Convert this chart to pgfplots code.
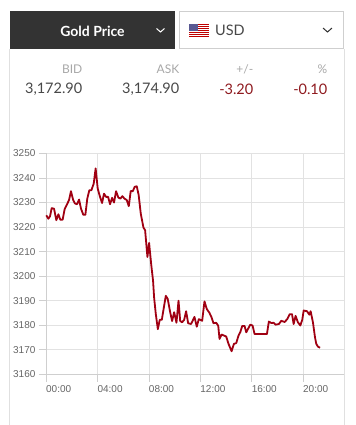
\documentclass[border=0pt]{standalone}
\usepackage{pgfplots}
\pgfplotsset{compat=1.18}
\usepackage{fontspec}
\setmainfont{Lato}[]
\newfontfamily\arialf{Liberation Sans}
\definecolor{gridc}{HTML}{E2E2E2}
\definecolor{axisc}{HTML}{CFCFCF}
\definecolor{panelc}{HTML}{E0E0E0}
\definecolor{darkh}{HTML}{333333}
\definecolor{redv}{HTML}{8F1A1F}
\definecolor{lineR}{HTML}{A00012}
\definecolor{labg}{HTML}{666666}
\definecolor{headg}{HTML}{A8A8A8}
\definecolor{valg}{HTML}{484848}
\begin{document}
\begin{tikzpicture}[x=1bp,y=-1bp]
\path[use as bounding box] (0,0) rectangle (356,425);
\fill[white] (0,0) rectangle (356,425);
\coordinate (A) at (46.3,374.3);
% panel
\draw[panelc,line width=0.8bp] (9.8,49) -- (9.8,425);
\draw[panelc,line width=0.8bp] (344.2,49) -- (344.2,425);
% header
\fill[darkh] (10,11) rectangle (175,49);
\draw[axisc,line width=0.8bp,fill=white] (179.5,11.5) rectangle (343.7,48.5);
\node[anchor=center,text=white,font=\fontsize{14bp}{16bp}\selectfont\bfseries] at (92.5,31) {Gold Price};
\draw[white,line width=1bp] (156.5,28.5) -- (160.5,32) -- (164.5,28.5);
\draw[darkh,line width=1bp] (323,28) -- (327.5,32) -- (332,28);
% flag
\fill[white] (189,23.5) rectangle (209,36.5);
\foreach \i in {0,2,4,6,8,10,12}{\fill[red!75!black] (189,23.5+\i) rectangle (209,24.6+\i);}
\fill[blue!35!black!65] (189,23.5) rectangle (198,30.5);
\node[anchor=west,inner sep=0pt,text=valg,font=\fontsize{14.5bp}{16bp}\selectfont] at (215,30.5) {USD};
% quote table
\foreach \x/\t in {82.5/BID,179.5/ASK,253.5/{+/-},327.5/\%}{
  \node[anchor=east,inner sep=0pt,text=headg,font=\fontsize{12bp}{14bp}\selectfont] at (\x,69) {\t};}
\node[anchor=east,inner sep=0pt,text=valg,font=\fontsize{14.5bp}{16bp}\selectfont] at (82.5,89) {3,172.90};
\node[anchor=east,inner sep=0pt,text=valg,font=\fontsize{14.5bp}{16bp}\selectfont] at (179.5,89) {3,174.90};
\node[anchor=east,inner sep=0pt,text=redv,font=\fontsize{14.5bp}{16bp}\selectfont] at (253.5,89) {-3.20};
\node[anchor=east,inner sep=0pt,text=redv,font=\fontsize{14.5bp}{16bp}\selectfont] at (327.5,89) {-0.10};
\begin{axis}[
  at={(A)},anchor=south west,
  scale only axis,width=297.6bp,height=220.9bp,
  xmin=0,xmax=23.16,ymin=3160,ymax=3250,
  axis x line*=bottom,axis y line*=left,
  axis line style={axisc,line width=0.8bp,-},
  clip=false,
  xtick={0,4,8,12,16,20},
  xticklabels={00:00,04:00,08:00,12:00,16:00,20:00},
  ytick={3160,3170,3180,3190,3200,3210,3220,3230,3240,3250},
  major tick length=7.4bp,
  tick style={axisc,line width=0.8bp},
  tick align=outside,
  grid=major,
  grid style={gridc,line width=0.8bp},
  /pgf/number format/assume math mode=true,
  /pgf/number format/set thousands separator={},
  tick label style={text=labg,font=\arialf\fontsize{10bp}{12bp}\selectfont},
  xticklabel style={xshift=12.4bp,yshift=-0.5bp},
]
\addplot[lineR,line width=1.8bp,line join=round,no markers] coordinates {
(0,3224.8)(.16,3223.4)(.29,3224.4)(.42,3227.7)(.60,3227.5)(.78,3222.8)(.94,3225.2)(1.09,3223)(1.27,3223)
(1.43,3227.3)(1.58,3228.9)(1.77,3231)(1.92,3234.6)(2.08,3231.2)(2.23,3229.6)(2.39,3229.3)(2.55,3231.2)
(2.70,3227.5)(2.88,3225)(3.04,3225)(3.19,3231.6)(3.35,3235)(3.51,3235)(3.69,3237.7)(3.84,3243.9)(4.0,3235.7)
(4.18,3232.3)(4.34,3229.8)(4.49,3233.6)(4.65,3232.3)(4.81,3232.3)(4.96,3229.3)(5.12,3231.9)(5.27,3230)
(5.43,3234.6)(5.61,3232)(5.77,3231.6)(5.92,3232.6)(6.08,3231.6)(6.26,3231)(6.42,3228.5)(6.57,3234.7)
(6.73,3234.6)(6.88,3236.4)(7.04,3236.6)(7.19,3233)(7.35,3225.5)(7.56,3219.8)(7.69,3218.7)(7.87,3207.8)
(8.0,3213.5)(8.16,3205)(8.31,3198)(8.39,3191.3)(8.52,3184.6)(8.68,3178.4)(8.83,3182.2)(8.99,3182.2)
(9.3,3192)(9.45,3190.7)(9.64,3185.3)(9.79,3181.7)(9.95,3185.3)(10.13,3181)(10.29,3190)(10.42,3181.7)
(10.57,3181.2)(10.73,3182.2)(10.88,3185.7)(11.04,3180.8)(11.27,3180.5)(11.53,3183.4)(11.71,3179.4)
(11.87,3182.5)(12.13,3181.8)(12.31,3189.7)(12.49,3186.6)(12.70,3185)(12.86,3183.2)(13.01,3180.8)
(13.22,3181)(13.38,3179.8)(13.48,3174.4)(13.64,3176.2)(14.0,3175.4)(14.18,3172.4)(14.42,3169.4)
(14.60,3172.4)(14.78,3172.7)(14.96,3175.8)(15.09,3177.1)(15.25,3179.7)(15.43,3179.7)(15.56,3177.1)
(15.87,3180.2)(16.05,3179.9)(16.21,3176.4)(17.17,3176.4)(17.32,3181.5)(17.51,3180.9)(17.69,3181)
(17.84,3180.2)(18.10,3180.5)(18.29,3181.8)(18.55,3181.3)(18.75,3182.5)(18.94,3184.5)(19.12,3184.5)
(19.25,3180.5)(19.40,3183.8)(19.58,3181.2)(19.77,3179.9)(19.92,3182.2)(20.03,3186)(20.29,3185.7)
(20.47,3184.3)(20.57,3185.7)(20.75,3181.2)(20.91,3175.1)(21.01,3172.4)(21.14,3171.3)(21.30,3170.8)
};
\end{axis}
\end{tikzpicture}
\end{document}
